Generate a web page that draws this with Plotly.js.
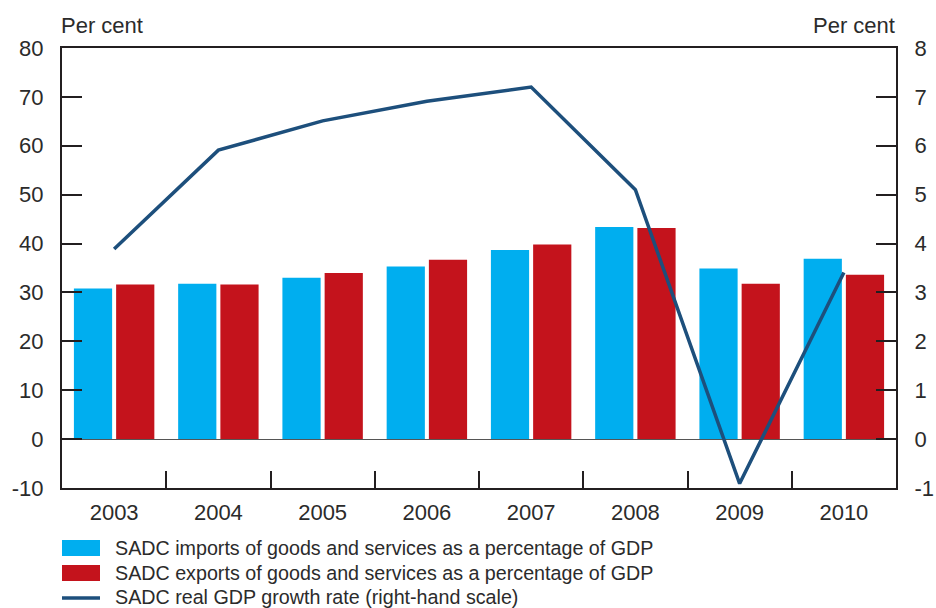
<!DOCTYPE html>
<html>
<head>
<meta charset="utf-8">
<script src="https://cdn.plot.ly/plotly-3.0.1.min.js"></script>
<style>html,body{margin:0;padding:0;background:#fff;}#chart{width:936px;height:608px;}</style>
</head>
<body>
<div id="chart"></div>
<script>
const years = ["2003","2004","2005","2006","2007","2008","2009","2010"];
const importsPct = [30.8, 31.8, 33.0, 35.3, 38.7, 43.4, 34.9, 36.9];
const exportsPct = [31.6, 31.6, 34.0, 36.7, 39.8, 43.2, 31.8, 33.6];
const gdpGrowth = [3.89, 5.91, 6.51, 6.91, 7.20, 5.10, -0.91, 3.41];
const leftTicks = [-10, 0, 10, 20, 30, 40, 50, 60, 70, 80];
const leftTickText = ["-10", "0", "10", "20", "30", "40", "50", "60", "70", "80"];
const rightTicks = [-1, 0, 1, 2, 3, 4, 5, 6, 7, 8];
const rightTickText = ["-1", "0", "1", "2", "3", "4", "5", "6", "7", "8"];
const legendLabels = [
  "SADC imports of goods and services as a percentage of GDP",
  "SADC exports of goods and services as a percentage of GDP",
  "SADC real GDP growth rate (right-hand scale)"
];
const cImp = "#00aeef", cExp = "#c4131c", cLine = "#1d4f7c";
const ink = "#2b2b2b";
const FONT = "Liberation Sans, Arial, sans-serif";

const M = {l: 62, r: 40, t: 48, b: 120};
const W = 936, H = 608;
const pw = W - M.l - M.r, ph = H - M.t - M.b;
const xp = px => (px - M.l) / pw;
const yp = py => (H - M.b - py) / ph;

const traces = [
  {type: "bar", x: years, y: importsPct, name: legendLabels[0], marker: {color: cImp}, yaxis: "y"},
  {type: "bar", x: years, y: exportsPct, name: legendLabels[1], marker: {color: cExp}, yaxis: "y"},
  {type: "scatter", mode: "lines", x: years, y: gdpGrowth, name: legendLabels[2],
   line: {color: cLine, width: 3.5}, yaxis: "y2"}
];

const legendY = [548, 573, 597];
const shapes = [
  {type: "rect", xref: "paper", yref: "paper", x0: xp(62), x1: xp(100), y0: yp(legendY[0] + 8), y1: yp(legendY[0] - 8), fillcolor: cImp, line: {width: 0}},
  {type: "rect", xref: "paper", yref: "paper", x0: xp(62), x1: xp(100), y0: yp(legendY[1] + 8), y1: yp(legendY[1] - 8), fillcolor: cExp, line: {width: 0}},
  {type: "line", xref: "paper", yref: "paper", x0: xp(62), x1: xp(100), y0: yp(legendY[2] + 1), y1: yp(legendY[2] + 1), line: {color: cLine, width: 3.5}}
];
const annotations = legendLabels.map((t, i) => ({
  text: t, xref: "paper", yref: "paper", x: xp(113), y: yp(legendY[i]),
  xanchor: "left", yanchor: "middle", showarrow: false, font: {family: FONT, size: 19.7, color: ink}
}));
annotations.push({text: "Per cent", xref: "paper", yref: "paper", x: xp(59), y: yp(25), xanchor: "left", yanchor: "middle", showarrow: false, font: {family: FONT, size: 22, color: ink}});
annotations.push({text: "Per cent", xref: "paper", yref: "paper", x: xp(897), y: yp(25), xanchor: "right", yanchor: "middle", showarrow: false, font: {family: FONT, size: 22, color: ink}});

const layout = {
  width: W, height: H,
  margin: M,
  paper_bgcolor: "#fff", plot_bgcolor: "#fff",
  showlegend: false,
  barmode: "group", bargap: 0.19, bargroupgap: 0.095,
  font: {family: FONT, size: 22, color: ink},
  xaxis: {
    type: "category", showline: true, linecolor: "#231f20", linewidth: 2, mirror: true,
    ticks: "inside", tickson: "boundaries", ticklen: 17, tickwidth: 2, tickcolor: "#231f20",
    showgrid: false, zeroline: false, tickfont: {family: FONT, size: 22, color: ink}, ticklabelstandoff: 4
  },
  yaxis: {
    range: [-10, 80], tickvals: leftTicks, ticktext: leftTickText, showline: true, linecolor: "#231f20", linewidth: 2,
    ticks: "inside", ticklen: 20, tickwidth: 2, tickcolor: "#231f20",
    showgrid: false, zeroline: true, zerolinecolor: "#555", zerolinewidth: 1,
    tickfont: {family: FONT, size: 22, color: ink}, ticklabelstandoff: 12
  },
  yaxis2: {
    range: [-1, 8], tickvals: rightTicks, ticktext: rightTickText, overlaying: "y", side: "right",
    showline: true, linecolor: "#231f20", linewidth: 2,
    ticks: "inside", ticklen: 20, tickwidth: 2, tickcolor: "#231f20",
    showgrid: false, zeroline: false,
    tickfont: {family: FONT, size: 22, color: ink}, ticklabelstandoff: 12
  },
  shapes: shapes,
  annotations: annotations
};

Plotly.newPlot("chart", traces, layout, {displayModeBar: false, staticPlot: true});
</script>
</body>
</html>
